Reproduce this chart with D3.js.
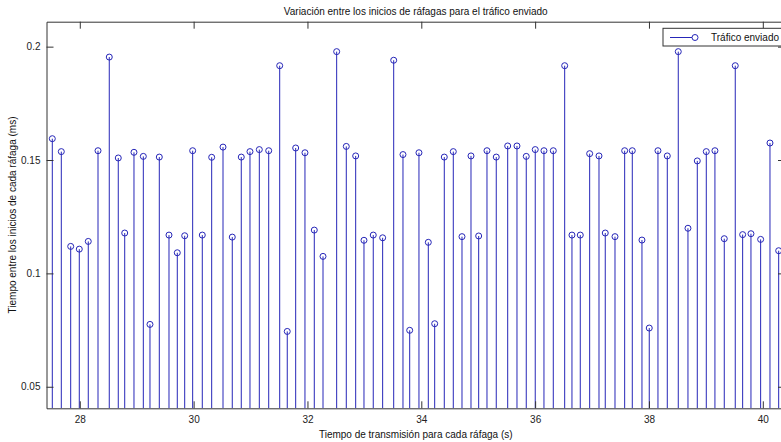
<!DOCTYPE html>
<html>
<head>
<meta charset="utf-8">
<script src="https://cdn.jsdelivr.net/npm/d3@7"></script>
<style>
  body { margin: 0; background: #fff; }
  svg { display: block; font-family: "Liberation Sans", Arial, sans-serif; }
  .axis text { font-size: 10px; fill: #222; }
  .axis path, .axis line { stroke: #333; }
</style>
</head>
<body>
<svg width="781" height="442"></svg>
<script>
// burst start times (s) and gap to next burst (ms)
var tiempos = [27.517, 27.675, 27.840, 27.991, 28.149, 28.320, 28.518, 28.676, 28.789, 28.952,
               29.116, 29.233, 29.397, 29.567, 29.713, 29.843, 29.983, 30.152, 30.317, 30.516,
               30.679, 30.837, 30.990, 31.154, 31.319, 31.512, 31.645, 31.793, 31.956, 32.120,
               32.273, 32.513, 32.682, 32.847, 32.993, 33.156, 33.321, 33.515, 33.678, 33.796,
               33.959, 34.123, 34.235, 34.404, 34.562, 34.715, 34.873, 35.008, 35.154, 35.317,
               35.518, 35.681, 35.844, 36.002, 36.155, 36.319, 36.519, 36.647, 36.793, 36.958,
               37.122, 37.232, 37.403, 37.573, 37.707, 37.877, 38.005, 38.158, 38.322, 38.515,
               38.685, 38.849, 39.007, 39.159, 39.323, 39.516, 39.646, 39.792, 39.962, 40.126,
               40.279];
var variacion = [0.1594, 0.1537, 0.1119, 0.1107, 0.1141, 0.1541, 0.1954, 0.1509, 0.1178, 0.1534,
                 0.1516, 0.0775, 0.1513, 0.1169, 0.1091, 0.1166, 0.1541, 0.1169, 0.1512, 0.1557,
                 0.1160, 0.1513, 0.1537, 0.1546, 0.1541, 0.1916, 0.0744, 0.1553, 0.1532, 0.1191,
                 0.1075, 0.1978, 0.1560, 0.1518, 0.1146, 0.1169, 0.1157, 0.1940, 0.1524, 0.0749,
                 0.1532, 0.1137, 0.0778, 0.1513, 0.1537, 0.1162, 0.1518, 0.1165, 0.1541, 0.1513,
                 0.1562, 0.1562, 0.1516, 0.1546, 0.1541, 0.1541, 0.1916, 0.1169, 0.1169, 0.1528,
                 0.1518, 0.1178, 0.1162, 0.1541, 0.1541, 0.1147, 0.0759, 0.1541, 0.1518, 0.1978,
                 0.1199, 0.1496, 0.1537, 0.1541, 0.1153, 0.1916, 0.1171, 0.1175, 0.1150, 0.1575,
                 0.1100];
var xTicks = [28, 30, 32, 34, 36, 38, 40];
var yTicks = [0.05, 0.1, 0.15, 0.2];

var titulo = "Variación entre los inicios de ráfagas para el tráfico enviado";
var etiquetaX = "Tiempo de transmisión para cada ráfaga (s)";
var etiquetaY = "Tiempo entre los inicios de cada ráfaga (ms)";
var leyenda = "Tráfico enviado";

var svg = d3.select("svg");
var pLeft = 46.5, pRight = 785, pTop = 21.7, pBottom = 408.3;
var azul = "#2626b8";

var x = d3.scaleLinear().domain([27.415, 40.39]).range([pLeft, pRight]);
var y = d3.scaleLinear().domain([0.0405, 0.211]).range([pBottom, pTop]);

var datos = tiempos.map(function (t, i) { return { t: t, v: variacion[i] }; });

svg.append("defs").append("clipPath").attr("id", "area")
    .append("rect").attr("x", pLeft).attr("y", pTop)
    .attr("width", pRight - pLeft).attr("height", pBottom - pTop);

var plot = svg.append("g").attr("clip-path", "url(#area)");

plot.selectAll("line.stem").data(datos).enter().append("line")
    .attr("class", "stem")
    .attr("x1", function (d) { return x(d.t); })
    .attr("x2", function (d) { return x(d.t); })
    .attr("y1", pBottom)
    .attr("y2", function (d) { return y(d.v); })
    .attr("stroke", azul).attr("stroke-width", 1);

plot.selectAll("circle").data(datos).enter().append("circle")
    .attr("cx", function (d) { return x(d.t); })
    .attr("cy", function (d) { return y(d.v); })
    .attr("r", 3)
    .attr("fill", "none")
    .attr("stroke", azul).attr("stroke-width", 1);

// frame with inward ticks on all four sides
svg.append("g").attr("class", "axis").attr("transform", "translate(0," + pBottom + ")")
    .call(d3.axisBottom(x).tickValues(xTicks).tickSizeInner(-7).tickSizeOuter(0).tickPadding(6))
    .call(function (g) { g.selectAll("text").attr("dy", "0.9em"); });
svg.append("g").attr("class", "axis").attr("transform", "translate(0," + pTop + ")")
    .call(d3.axisTop(x).tickValues(xTicks).tickSizeInner(-7).tickSizeOuter(0).tickFormat(""));
svg.append("g").attr("class", "axis").attr("transform", "translate(" + pLeft + ",0)")
    .call(d3.axisLeft(y).tickValues(yTicks).tickSizeInner(-7).tickSizeOuter(0).tickPadding(6)
        .tickFormat(function (d) { return String(+d.toFixed(2)); }));
svg.append("g").attr("class", "axis").attr("transform", "translate(" + pRight + ",0)")
    .call(d3.axisRight(y).tickValues(yTicks).tickSizeInner(-7).tickSizeOuter(0).tickFormat(""));

svg.append("text").attr("x", (pLeft + pRight) / 2).attr("y", 15)
    .attr("text-anchor", "middle").attr("font-size", 10).attr("fill", "#111").text(titulo);
svg.append("text").attr("x", (pLeft + pRight) / 2).attr("y", 438)
    .attr("text-anchor", "middle").attr("font-size", 10).attr("fill", "#111").text(etiquetaX);
svg.append("text").attr("transform", "translate(16," + ((pTop + pBottom) / 2) + ") rotate(-90)")
    .attr("text-anchor", "middle").attr("font-size", 10).attr("fill", "#111").text(etiquetaY);

// legend
var lg = svg.append("g");
lg.append("rect").attr("x", 663).attr("y", 28.3).attr("width", 120).attr("height", 17.7)
    .attr("fill", "#fff").attr("stroke", "#333");
lg.append("line").attr("x1", 670).attr("x2", 695).attr("y1", 37.5).attr("y2", 37.5)
    .attr("stroke", azul);
lg.append("circle").attr("cx", 695).attr("cy", 37.5).attr("r", 3)
    .attr("fill", "#fff").attr("stroke", azul);
lg.append("text").attr("x", 711).attr("y", 41).attr("font-size", 10).attr("fill", "#111").text(leyenda);
</script>
</body>
</html>
